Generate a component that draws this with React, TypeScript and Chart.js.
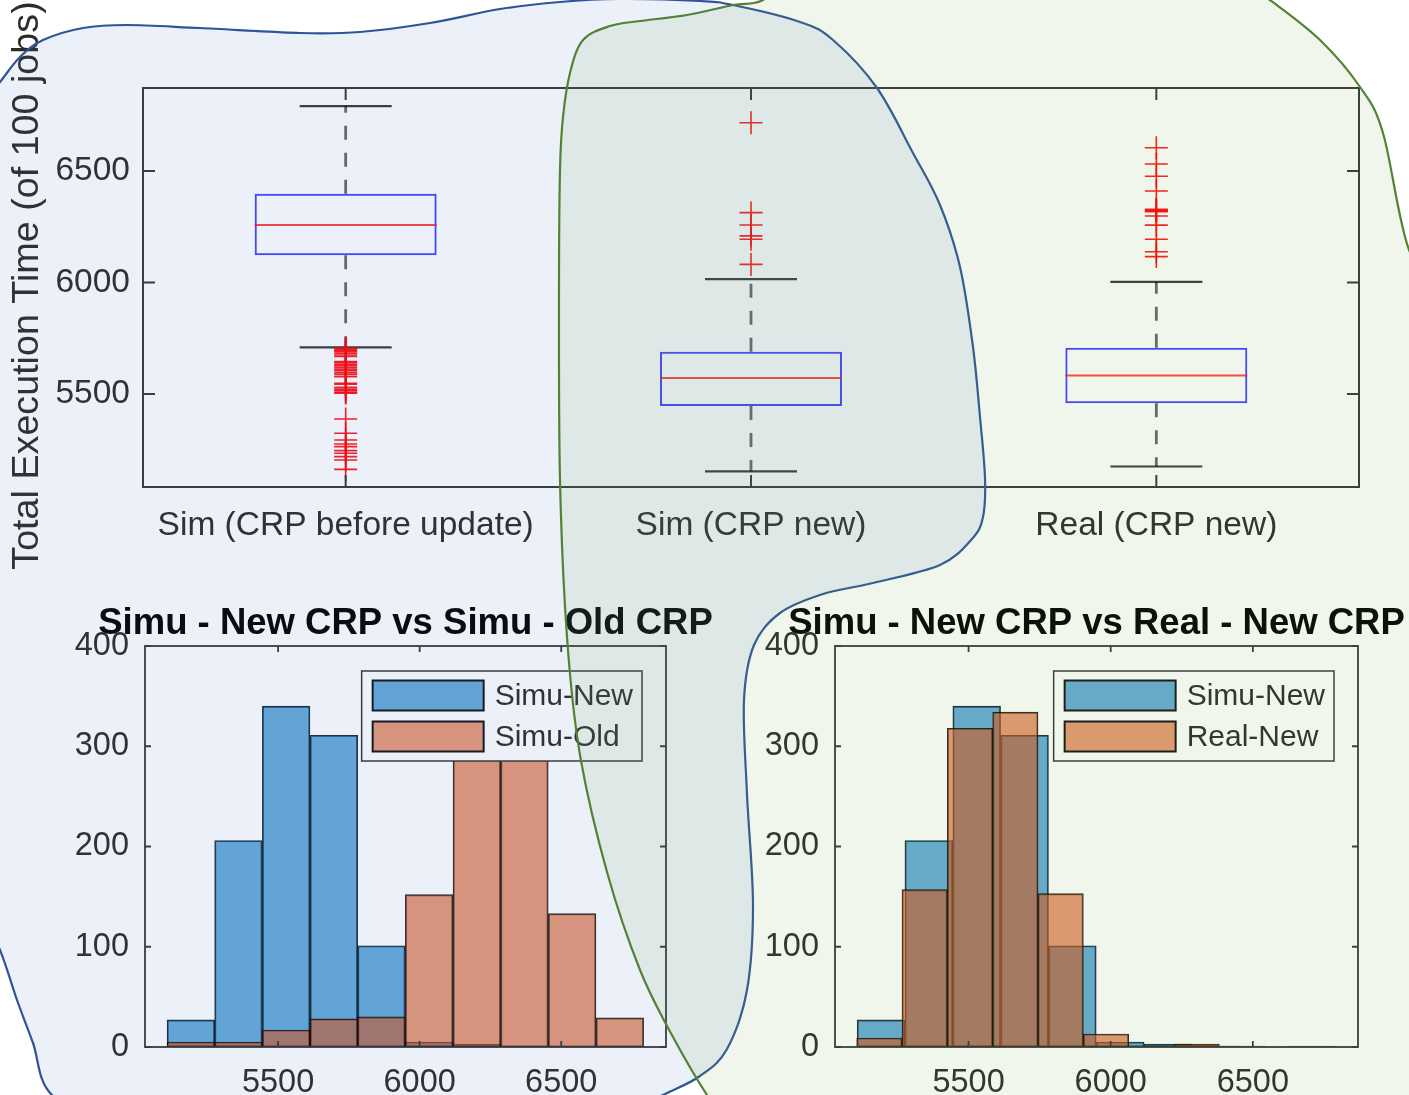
import React, { useEffect, useRef } from "react";
import { Chart, registerables } from "chart.js";

Chart.register(...registerables);

// ---------------- DATA ----------------
const BOX_CATEGORIES = ["Sim (CRP before update)", "Sim (CRP new)", "Real (CRP new)"];
const BOX_Q1 = [6122, 5446, 5458];
const BOX_MEDIAN = [6258, 5572, 5583];
const BOX_Q3 = [6398, 5689, 5707];
const BOX_WHISKER_LOW = [5709, 5153, 5175];
const BOX_WHISKER_HIGH = [6791, 6015, 6003];
const OUTLIERS_BEFORE = [
  5705, 5700, 5695, 5690, 5683, 5675, 5668, 5645, 5640, 5633, 5626, 5618, 5611, 5604,
  5596, 5588, 5578, 5548, 5544, 5530, 5522, 5515, 5508, 5504, 5388, 5324, 5294, 5276,
  5264, 5246, 5234, 5219, 5204, 5162,
];
const OUTLIERS_SIM_NEW = [6716, 6313, 6258, 6209, 6194, 6081];
const OUTLIERS_REAL_NEW = [6604, 6531, 6476, 6410, 6328, 6324, 6321, 6317, 6298, 6257, 6194, 6138, 6116];
const BOX_Y_TICKS = [5500, 6000, 6500];
const BOX_Y_MIN = 5083;
const BOX_Y_MAX = 6872;
const Y_AXIS_TITLE = "Total Execution Time (of 100 jobs)";

const HIST_EDGES_SIMU = [5108, 5276, 5444, 5613, 5781, 5949, 6118, 6286, 6454, 6623, 6791];
const COUNTS_SIMU_NEW = [27, 206, 340, 311, 101, 5, 3, 1, 0, 1];
const COUNTS_SIMU_OLD = [5, 5, 17, 28, 30, 152, 298, 303, 133, 29];
const HIST_EDGES_REAL = [5106, 5266, 5425, 5585, 5744, 5904, 6063, 6223, 6382, 6542];
const COUNTS_REAL_NEW = [9, 157, 318, 334, 153, 13, 1, 3, 1];
const HIST_X_MIN = 5030;
const HIST_X_MAX = 6870;
const HIST_X_TICKS = [5500, 6000, 6500];
const HIST_Y_TICKS = [0, 100, 200, 300, 400];
const TITLE_LEFT = "Simu - New CRP vs Simu - Old CRP";
const TITLE_RIGHT = "Simu - New CRP vs Real - New CRP";

// ---------------- STYLE ----------------
const FONT = "'Liberation Sans', Arial, Helvetica, sans-serif";
const TICK_COLOR = "#2b2b2b";
const AXIS_COLOR = "#363636";
const BLUE_FILL = "rgba(0,114,189,0.6)";
const ORANGE_FILL = "rgba(217,83,25,0.6)";
const EDGE = "rgba(0,0,0,0.85)";

const binCenters = (edges: number[]) => edges.slice(0, -1).map((e, i) => (e + edges[i + 1]) / 2);
const fixedTicks = (values: number[]) => (s: any) => {
  s.ticks = values.map((v) => ({ value: v }));
};

// MATLAB-like frame: full box with inward ticks on all four sides
const framePlugin = {
  id: "matlabFrame",
  afterDatasetsDraw(chart: any, _a: any, opts: any) {
    const { ctx, chartArea } = chart;
    const { left, right, top, bottom } = chartArea;
    const tl = opts.tickLen ?? 8;
    ctx.save();
    ctx.strokeStyle = opts.color ?? AXIS_COLOR;
    ctx.lineWidth = opts.lineWidth ?? 1.5;
    ctx.beginPath();
    const xs = chart.scales.x;
    xs.ticks.forEach((_t: any, i: number) => {
      const px = xs.getPixelForTick(i);
      ctx.moveTo(px, bottom);
      ctx.lineTo(px, bottom - tl);
      ctx.moveTo(px, top);
      ctx.lineTo(px, top + tl);
    });
    const ys = chart.scales.y;
    ys.ticks.forEach((_t: any, i: number) => {
      const py = ys.getPixelForTick(i);
      ctx.moveTo(left, py);
      ctx.lineTo(left + tl, py);
      ctx.moveTo(right, py);
      ctx.lineTo(right - tl, py);
    });
    ctx.stroke();
    ctx.strokeRect(left, top, right - left, bottom - top);
    ctx.restore();
  },
};

const yTitlePlugin = {
  id: "yTitle",
  afterDraw(chart: any, _a: any, opts: any) {
    if (!opts || !opts.text) return;
    const { ctx, chartArea } = chart;
    ctx.save();
    ctx.translate(opts.x, (chartArea.top + chartArea.bottom) / 2 + (opts.dy ?? 0));
    ctx.rotate(-Math.PI / 2);
    ctx.textAlign = "center";
    ctx.textBaseline = "middle";
    ctx.fillStyle = TICK_COLOR;
    ctx.font = `${opts.size}px ${FONT}`;
    ctx.fillText(opts.text, 0, 0);
    ctx.restore();
  },
};

const legendPlugin = {
  id: "matlabLegend",
  afterDraw(chart: any, _a: any, opts: any) {
    if (!opts || !opts.items) return;
    const { ctx, chartArea } = chart;
    const items: number[] = opts.items;
    ctx.save();
    ctx.font = `${opts.fontSize}px ${FONT}`;
    const textW = Math.max(...items.map((i) => ctx.measureText(chart.data.datasets[i].label).width));
    const padL = 11, sw = 111, sh = 30, gap = 11, padR = 9, rowGap = 41;
    const w = padL + sw + gap + textW + padR;
    const h = 90;
    const right = chartArea.right - opts.offsetRight;
    const top = chartArea.top + opts.offsetTop;
    const left = right - w;
    ctx.fillStyle = "#ffffff";
    ctx.fillRect(left, top, w, h);
    ctx.strokeStyle = AXIS_COLOR;
    ctx.lineWidth = 1.5;
    ctx.strokeRect(left, top, w, h);
    items.forEach((di, k) => {
      const ds = chart.data.datasets[di];
      const y0 = top + 9.5 + k * rowGap;
      ctx.fillStyle = ds.backgroundColor;
      ctx.fillRect(left + padL, y0, sw, sh);
      ctx.strokeStyle = "#111";
      ctx.lineWidth = 2;
      ctx.strokeRect(left + padL, y0, sw, sh);
      ctx.fillStyle = TICK_COLOR;
      ctx.textAlign = "left";
      ctx.textBaseline = "middle";
      ctx.fillText(ds.label, left + padL + sw + gap, y0 + sh / 2 + 1);
    });
    ctx.restore();
  },
};

// ---------------- BOX PLOT ----------------
function BoxChart() {
  const ref = useRef<HTMLCanvasElement | null>(null);
  useEffect(() => {
    if (!ref.current) return;
    const boxData = BOX_CATEGORIES.map((_, i) => ({ x: i + 1, y: [BOX_Q1[i], BOX_Q3[i]] }));
    const medianData = BOX_MEDIAN.map((v, i) => ({ x: i + 1, y: v }));
    const capData = [
      ...BOX_WHISKER_LOW.map((v, i) => ({ x: i + 1, y: v })),
      ...BOX_WHISKER_HIGH.map((v, i) => ({ x: i + 1, y: v })),
    ];
    const whiskerData: any[] = [];
    BOX_CATEGORIES.forEach((_, i) => {
      whiskerData.push({ x: i + 1, y: BOX_Q3[i] }, { x: i + 1, y: BOX_WHISKER_HIGH[i] }, { x: i + 1, y: null });
      whiskerData.push({ x: i + 1, y: BOX_Q1[i] }, { x: i + 1, y: BOX_WHISKER_LOW[i] }, { x: i + 1, y: null });
    });
    const outlierData = [OUTLIERS_BEFORE, OUTLIERS_SIM_NEW, OUTLIERS_REAL_NEW].flatMap((arr, i) =>
      arr.map((v) => ({ x: i + 1, y: v }))
    );
    const chart = new Chart(ref.current, {
      type: "scatter",
      data: {
        datasets: [
          {
            type: "bar",
            label: "box",
            data: boxData as any,
            backgroundColor: "rgba(0,0,0,0)",
            borderColor: "rgba(20,20,255,0.8)",
            borderWidth: 2,
            borderSkipped: false,
            barPercentage: 0.449,
            categoryPercentage: 1,
            order: 5,
          } as any,
          {
            type: "line",
            label: "whiskers",
            data: whiskerData,
            borderColor: "rgba(0,0,0,0.6)",
            borderWidth: 2.8,
            borderDash: [14, 13],
            pointRadius: 0,
            spanGaps: false,
            fill: false,
            order: 4,
          } as any,
          {
            type: "scatter",
            label: "caps",
            data: capData,
            pointStyle: "line",
            pointRadius: 46,
            pointBorderColor: "rgba(0,0,0,0.78)",
            borderColor: "rgba(0,0,0,0.78)",
            pointBorderWidth: 2.2,
            order: 3,
          } as any,
          {
            type: "scatter",
            label: "median",
            data: medianData,
            pointStyle: "line",
            pointRadius: 91,
            pointBorderColor: "rgba(255,20,20,0.8)",
            borderColor: "rgba(255,20,20,0.8)",
            pointBorderWidth: 2,
            order: 2,
          } as any,
          {
            type: "scatter",
            label: "outliers",
            data: outlierData,
            pointStyle: "cross",
            pointRadius: 11.5,
            pointBorderColor: "rgba(255,0,0,0.9)",
            borderColor: "rgba(255,0,0,0.9)",
            pointBorderWidth: 1.6,
            order: 1,
          } as any,
        ],
      },
      options: {
        responsive: false,
        animation: false,
        events: [],
        layout: { autoPadding: false, padding: { top: 88, right: 50, left: 0, bottom: 0 } },
        plugins: {
          legend: { display: false },
          tooltip: { enabled: false },
          matlabFrame: { tickLen: 12, lineWidth: 2 },
          yTitle: { text: Y_AXIS_TITLE, size: 37.7, x: 27.5, dy: -2 },
        } as any,
        scales: {
          x: {
            type: "linear",
            min: 0.5,
            max: BOX_CATEGORIES.length + 0.5,
            offset: false,
            grid: { display: false, drawTicks: false },
            border: { display: false },
            afterBuildTicks: fixedTicks(BOX_CATEGORIES.map((_, i) => i + 1)),
            ticks: {
              autoSkip: false,
              maxRotation: 0,
              padding: 19,
              color: TICK_COLOR,
              font: { family: FONT, size: 33.5 },
              callback: (v: any) => BOX_CATEGORIES[Math.round(Number(v)) - 1] ?? "",
            },
            afterFit: (s: any) => {
              s.height = 88;
            },
          },
          y: {
            type: "linear",
            min: BOX_Y_MIN,
            max: BOX_Y_MAX,
            grid: { display: false, drawTicks: false },
            border: { display: false },
            afterBuildTicks: fixedTicks(BOX_Y_TICKS),
            ticks: {
              padding: 13,
              color: TICK_COLOR,
              font: { family: FONT, size: 33.5 },
              callback: (v: any) => String(v),
            },
            afterFit: (s: any) => {
              s.width = 143;
            },
          },
        } as any,
      },
      plugins: [framePlugin, yTitlePlugin],
    });
    return () => chart.destroy();
  }, []);
  return (
    <canvas
      ref={ref}
      width={1409}
      height={575}
      style={{ position: "absolute", left: 0, top: 0, width: 1409, height: 575 }}
    />
  );
}

// ---------------- HISTOGRAMS ----------------
type HistProps = {
  left: number;
  top: number;
  axisW: number;
  plotW: number;
  title: string;
  second: "old" | "real";
};

function HistChart({ left, top, axisW, plotW, title, second }: HistProps) {
  const ref = useRef<HTMLCanvasElement | null>(null);
  const width = axisW * 2 + plotW;
  const height = 515;
  useEffect(() => {
    if (!ref.current) return;
    const newData = binCenters(HIST_EDGES_SIMU).map((c, i) => ({ x: c, y: COUNTS_SIMU_NEW[i] }));
    const secondData =
      second === "old"
        ? binCenters(HIST_EDGES_SIMU).map((c, i) => ({ x: c, y: COUNTS_SIMU_OLD[i] }))
        : binCenters(HIST_EDGES_REAL).map((c, i) => ({ x: c, y: COUNTS_REAL_NEW[i] }));
    const common = {
      type: "bar",
      borderColor: EDGE,
      borderWidth: 1.2,
      borderSkipped: false,
      grouped: false,
      barPercentage: 1,
      categoryPercentage: 1,
      yAxisID: "y",
    };
    const chart = new Chart(ref.current, {
      type: "bar",
      data: {
        datasets: [
          { ...common, label: "Simu-New", data: newData, backgroundColor: BLUE_FILL, order: 2, xAxisID: "x" } as any,
          {
            ...common,
            label: second === "old" ? "Simu-Old" : "Real-New",
            data: secondData,
            backgroundColor: ORANGE_FILL,
            order: 1,
            xAxisID: second === "old" ? "x" : "x2",
          } as any,
        ],
      },
      options: {
        responsive: false,
        animation: false,
        events: [],
        layout: { autoPadding: false, padding: 0 },
        plugins: {
          legend: { display: false },
          tooltip: { enabled: false },
          title: {
            display: true,
            text: title,
            color: "#000",
            fullSize: true,
            font: { family: FONT, size: 36.5, weight: "bold", lineHeight: 1.1 },
            padding: { top: 24.3, bottom: 1.55 },
          },
          matlabFrame: { tickLen: 6, lineWidth: 1.8 },
          matlabLegend: { items: [0, 1], fontSize: 30, offsetRight: 24, offsetTop: 25 },
        } as any,
        scales: {
          x: {
            type: "linear",
            position: "bottom",
            min: HIST_X_MIN,
            max: HIST_X_MAX,
            offset: false,
            grid: { display: false, drawTicks: false },
            border: { display: false },
            afterBuildTicks: fixedTicks(HIST_X_TICKS),
            ticks: {
              autoSkip: false,
              maxRotation: 0,
              padding: 17,
              color: TICK_COLOR,
              font: { family: FONT, size: 32.5 },
              callback: (v: any) => String(v),
            },
            afterFit: (s: any) => {
              s.height = 48;
            },
          },
          x2: {
            type: "linear",
            display: false,
            min: HIST_X_MIN,
            max: HIST_X_MAX,
            offset: false,
            afterBuildTicks: fixedTicks(HIST_X_TICKS),
          },
          y: {
            type: "linear",
            position: "left",
            min: HIST_Y_TICKS[0],
            max: HIST_Y_TICKS[HIST_Y_TICKS.length - 1],
            grid: { display: false, drawTicks: false },
            border: { display: false },
            afterBuildTicks: fixedTicks(HIST_Y_TICKS),
            ticks: {
              padding: 16,
              color: TICK_COLOR,
              font: { family: FONT, size: 32.5 },
              callback: (v: any) => String(v),
            },
            afterFit: (s: any) => {
              s.width = axisW;
            },
          },
          yR: {
            type: "linear",
            position: "right",
            display: true,
            grid: { display: false, drawTicks: false },
            border: { display: false },
            ticks: { display: false },
            afterFit: (s: any) => {
              s.width = axisW;
            },
          },
        } as any,
      },
      plugins: [framePlugin, legendPlugin],
    });
    return () => chart.destroy();
  }, []);
  return (
    <canvas
      ref={ref}
      width={width}
      height={height}
      style={{ position: "absolute", left, top, width, height }}
    />
  );
}

// ---------------- DECORATIVE BLOBS ----------------
const BLUE_BLOB = [
  [-30, 120], [0, 82], [20, 57], [43, 40], [83, 28], [127, 25], [200, 28], [300, 33], [360, 32],
  [430, 23], [500, 9], [560, 2], [620, -1], [700, 1], [733, 5], [800, 22], [833, 40], [877, 88],
  [913, 153], [940, 205], [960, 267], [973, 347], [980, 417], [985, 478], [983, 517], [972, 539],
  [940, 565], [873, 583], [823, 594], [780, 613], [754, 645], [744, 700], [747, 794], [753, 905],
  [747, 990], [727, 1049], [700, 1076], [663, 1095], [600, 1125], [120, 1125], [52, 1095],
  [33, 1043], [17, 1000], [0, 950], [-30, 880],
];
const GREEN_BLOB = [
  [800, -30], [763, 0], [733, 5], [687, 15], [640, 21], [610, 26], [583, 40], [570, 73], [563, 117],
  [560, 170], [559, 300], [560, 480], [567, 637], [580, 755], [607, 872], [640, 970], [673, 1037],
  [707, 1095], [740, 1140], [1450, 1140], [1450, 320], [1409, 250], [1383, 133], [1360, 87],
  [1320, 40], [1270, 0], [1220, -35], [1000, -60],
];

function smoothClosedPath(pts: number[][]) {
  const n = pts.length;
  let d = `M ${pts[0][0]} ${pts[0][1]}`;
  for (let i = 0; i < n; i++) {
    const p0 = pts[(i - 1 + n) % n];
    const p1 = pts[i];
    const p2 = pts[(i + 1) % n];
    const p3 = pts[(i + 2) % n];
    const c1x = p1[0] + (p2[0] - p0[0]) / 6;
    const c1y = p1[1] + (p2[1] - p0[1]) / 6;
    const c2x = p2[0] - (p3[0] - p1[0]) / 6;
    const c2y = p2[1] - (p3[1] - p1[1]) / 6;
    d += ` C ${c1x.toFixed(1)} ${c1y.toFixed(1)} ${c2x.toFixed(1)} ${c2y.toFixed(1)} ${p2[0]} ${p2[1]}`;
  }
  return d + " Z";
}

function Blobs() {
  return (
    <svg
      width={1409}
      height={1095}
      style={{ position: "absolute", left: 0, top: 0, pointerEvents: "none" }}
    >
      <path d={smoothClosedPath(BLUE_BLOB)} fill="rgba(68,114,196,0.105)" stroke="#2F5597" strokeWidth={2.2} />
      <path d={smoothClosedPath(GREEN_BLOB)} fill="rgba(112,173,71,0.105)" stroke="#548235" strokeWidth={2.2} />
    </svg>
  );
}

export default function App() {
  useEffect(() => {
    document.body.style.margin = "0";
  }, []);
  return (
    <div
      style={{
        position: "absolute",
        left: 0,
        top: 0,
        width: 1409,
        height: 1095,
        overflow: "hidden",
        background: "#ffffff",
      }}
    >
      <BoxChart />
      <HistChart left={0} top={580} axisW={145} plotW={521} title={TITLE_LEFT} second="old" />
      <HistChart left={760} top={580} axisW={75} plotW={523} title={TITLE_RIGHT} second="real" />
      <Blobs />
    </div>
  );
}
